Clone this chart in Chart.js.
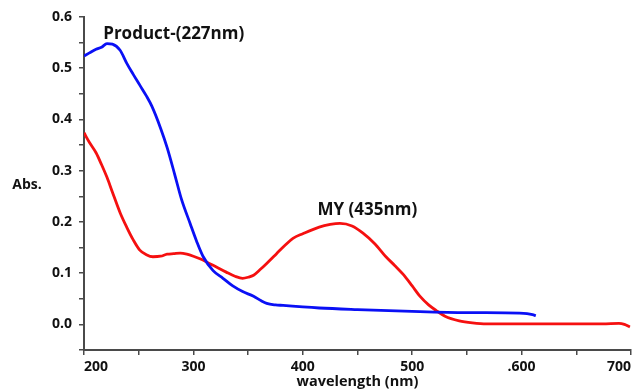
<!DOCTYPE html>
<html>
<head>
<meta charset="utf-8">
<script src="https://cdn.jsdelivr.net/npm/chart.js@4"></script>
<style>
    html, body { margin: 0; padding: 0; background: #fff; }
    #wrap { width: 639px; height: 391px; }
</style>
</head>
<body>
<div id="wrap"><canvas id="spectrum"></canvas></div>
<script>
// Product spectrum (blue)
const productWl = [200, 205, 211, 216, 221, 226, 233, 239, 245, 251, 257, 262, 270, 276, 283, 289, 297, 303, 309, 318, 327, 336, 345, 355, 362, 367, 375, 382, 400, 415, 450, 507, 550, 598, 605, 610, 613];
const productAbs = [0.524, 0.530, 0.537, 0.541, 0.548, 0.547, 0.535, 0.510, 0.488, 0.467, 0.446, 0.426, 0.383, 0.345, 0.292, 0.245, 0.197, 0.162, 0.132, 0.105, 0.090, 0.075, 0.064, 0.055, 0.046, 0.041, 0.038, 0.037, 0.034, 0.032, 0.029, 0.025, 0.023, 0.022, 0.021, 0.019, 0.017];

// MY spectrum (red)
const myWl = [200, 205, 211, 216, 221, 226, 233, 239, 245, 251, 257, 263, 270, 276, 282, 288, 294, 300, 306, 312, 321, 330, 338, 345, 350, 355, 361, 367, 376, 384, 391, 400, 415, 425, 434, 445, 455, 466, 476, 484, 492, 500, 507, 515, 522, 530, 543, 555, 568, 600, 650, 674, 689, 694, 699];
const myAbs = [0.374, 0.355, 0.335, 0.312, 0.287, 0.258, 0.218, 0.190, 0.165, 0.145, 0.136, 0.132, 0.133, 0.137, 0.138, 0.139, 0.137, 0.133, 0.128, 0.122, 0.112, 0.102, 0.094, 0.090, 0.092, 0.096, 0.107, 0.119, 0.138, 0.155, 0.168, 0.177, 0.190, 0.195, 0.197, 0.192, 0.178, 0.157, 0.132, 0.115, 0.097, 0.075, 0.055, 0.038, 0.027, 0.016, 0.007, 0.003, 0.001, 0.001, 0.001, 0.001, 0.002, 0.000, -0.005];

// axis labels
const xTickLabels = { 200: '200', 300: '300', 400: '400', 500: '500', 600: '.600', 700: '700' };
const peakNotes = [
    { text: 'Product-(227nm)', wl: 282, abs: 0.567 },
    { text: 'MY (435nm)', wl: 459, abs: 0.223 }
];

const FONT = '"Open Sans", "Liberation Sans", sans-serif';
const AXIS_COLOR = '#4a4a4a';

const toPoints = (xs, ys) => xs.map((x, i) => ({ x: x, y: ys[i] }));

// text notes on the plot + the "Abs." label
const notesPlugin = {
    id: 'notes',
    afterDraw(chart) {
        const ctx = chart.ctx;
        const xs = chart.scales.x, ys = chart.scales.y;
        ctx.save();
        ctx.fillStyle = '#111';
        ctx.textAlign = 'center';
        ctx.textBaseline = 'middle';
        ctx.font = 'bold 17px ' + FONT;
        peakNotes.forEach(n => {
            ctx.fillText(n.text, xs.getPixelForValue(n.wl), ys.getPixelForValue(n.abs));
        });
        ctx.font = 'bold 14px ' + FONT;
        ctx.fillText('Abs.', 27, ys.getPixelForValue(0.272));
        ctx.restore();
    }
};

new Chart(document.getElementById('spectrum'), {
    type: 'line',
    data: {
        datasets: [
            {
                label: 'Product',
                data: toPoints(productWl, productAbs),
                borderColor: '#0a10f5',
                borderWidth: 2.8,
                pointRadius: 0,
                cubicInterpolationMode: 'monotone',
                fill: false
            },
            {
                label: 'MY',
                data: toPoints(myWl, myAbs),
                borderColor: '#f51010',
                borderWidth: 2.8,
                pointRadius: 0,
                cubicInterpolationMode: 'monotone',
                fill: false
            }
        ]
    },
    options: {
        responsive: true,
        maintainAspectRatio: false,
        animation: false,
        layout: { padding: { top: 17, right: 8, bottom: 0, left: 0 } },
        plugins: {
            legend: { display: false },
            tooltip: { enabled: false }
        },
        scales: {
            x: {
                type: 'linear',
                min: 200,
                max: 700,
                border: { color: AXIS_COLOR, width: 2 },
                grid: { drawOnChartArea: false, color: AXIS_COLOR, tickLength: 5, lineWidth: 1.5 },
                ticks: {
                    stepSize: 50,
                    autoSkip: false,
                    maxRotation: 0,
                    align: 'inner',
                    padding: 4,
                    color: '#111',
                    font: { family: FONT, size: 14, weight: 'bold' },
                    callback: v => xTickLabels[v] || ''
                },
                title: {
                    display: true,
                    text: 'wavelength (nm)',
                    color: '#111',
                    padding: { top: 0, bottom: 0 },
                    font: { family: FONT, size: 14.5, weight: 'bold' }
                },
                afterFit: s => {
                    s.height = 41;
                    s.paddingLeft = 0;
                    s.paddingRight = 0;
                }
            },
            y: {
                min: -0.05,
                max: 0.6,
                border: { color: AXIS_COLOR, width: 2 },
                grid: { drawOnChartArea: false, color: AXIS_COLOR, tickLength: 5, lineWidth: 1.5 },
                ticks: {
                    stepSize: 0.05,
                    autoSkip: false,
                    padding: 7,
                    color: '#111',
                    font: { family: FONT, size: 14, weight: 'bold' },
                    callback: v => {
                        const r = Math.round(v * 100);
                        return (r % 10 === 0 && r >= 0) ? (r / 100).toFixed(1) : '';
                    }
                },
                afterFit: s => {
                    s.width = 84;
                    s.paddingTop = 0;
                    s.paddingBottom = 0;
                }
            }
        }
    },
    plugins: [notesPlugin]
});
</script>
</body>
</html>
